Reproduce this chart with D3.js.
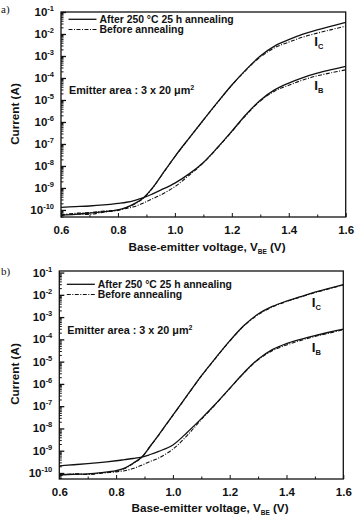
<!DOCTYPE html>
<html>
<head>
<meta charset="utf-8">
<script src="https://cdn.jsdelivr.net/npm/d3@7.9.0/dist/d3.min.js"></script>
<style>
  body { margin: 0; background: #fff; }
  svg text { font-family: "Liberation Sans", Arial, sans-serif; font-weight: bold; fill: #111; }
</style>
</head>
<body>
<svg id="chart" width="355" height="517"></svg>
<script>
// Base-emitter voltage grid (V)
const vbe = [0.60, 0.65, 0.70, 0.75, 0.80, 0.83, 0.86, 0.89, 0.92, 0.95, 1.00, 1.05,
             1.10, 1.15, 1.20, 1.25, 1.30, 1.35, 1.40, 1.45, 1.50, 1.55, 1.60];

// Panel a) - currents as log10(I / A)
const icAfterA  = [-10.23, -10.20, -10.14, -10.08, -10.00, -9.88, -9.70, -9.44, -9.02, -8.48, -7.57, -6.73,
                   -5.91, -5.10, -4.32, -3.62, -3.00, -2.55, -2.26, -2.01, -1.81, -1.64, -1.47];
const icBeforeA = [-10.25, -10.18, -10.20, -10.10, -10.02, -9.90, -9.72, -9.46, -9.03, -8.49, -7.58, -6.74,
                   -5.92, -5.11, -4.33, -3.64, -3.05, -2.63, -2.37, -2.14, -1.96, -1.80, -1.64];
const ibAfterA  = [-9.88, -9.85, -9.82, -9.77, -9.70, -9.65, -9.56, -9.44, -9.28, -9.10, -8.78, -8.36,
                   -7.84, -7.16, -6.42, -5.66, -5.01, -4.54, -4.23, -3.98, -3.78, -3.62, -3.47];
const ibBeforeA = [-10.22, -10.15, -10.12, -10.05, -10.00, -9.93, -9.84, -9.68, -9.50, -9.32, -8.94, -8.42,
                   -7.86, -7.17, -6.44, -5.69, -5.05, -4.60, -4.33, -4.09, -3.90, -3.76, -3.63];

// Panel b) - currents as log10(I / A)
const icAfterB  = [-10.08, -10.06, -10.04, -9.98, -9.89, -9.78, -9.56, -9.29, -8.80, -8.29, -7.40, -6.52,
                   -5.64, -4.84, -4.07, -3.38, -2.86, -2.52, -2.28, -2.08, -1.88, -1.71, -1.54];
const icBeforeB = [-10.10, -10.04, -10.07, -10.00, -9.92, -9.80, -9.58, -9.30, -8.81, -8.30, -7.41, -6.53,
                   -5.65, -4.85, -4.08, -3.40, -2.89, -2.55, -2.30, -2.10, -1.90, -1.73, -1.56];
const ibAfterB  = [-9.68, -9.63, -9.58, -9.52, -9.45, -9.40, -9.35, -9.29, -9.17, -9.03, -8.74, -8.18,
                   -7.56, -6.90, -6.20, -5.50, -4.89, -4.46, -4.19, -4.00, -3.83, -3.68, -3.54];
const ibBeforeB = [-10.10, -10.05, -10.06, -10.00, -9.95, -9.90, -9.80, -9.65, -9.48, -9.33, -8.93, -8.32,
                   -7.60, -6.92, -6.21, -5.51, -4.92, -4.51, -4.25, -4.05, -3.87, -3.72, -3.57];

// Tick labels
const xMajor = [0.6, 0.8, 1.0, 1.2, 1.4, 1.6];
const xMinor = [0.7, 0.9, 1.1, 1.3, 1.5];
const yExponents = [-1, -2, -3, -4, -5, -6, -7, -8, -9, -10];
const legendLabels = ["After 250 \u00B0C 25 h annealing", "Before annealing"];

const svg = d3.select("#chart");

// Panel layout (pixels)
const panels = [
  { tag: "a)", left: 61, right: 345.7, top: 12, bottom: 217, yLo: -10.32, yHi: -1,
    ic: [icAfterA, icBeforeA], ib: [ibAfterA, ibBeforeA],
    legY: 19.3, areaY: 94, icLabY: 46, ibLabY: 90, xTitleX: 207, xTitleY: 251, yTitleY: 114, tagY: 13 },
  { tag: "b)", left: 59.3, right: 343.3, top: 271, bottom: 479, yLo: -10.27, yHi: -0.93,
    ic: [icAfterB, icBeforeB], ib: [ibAfterB, ibBeforeB],
    legY: 284.3, areaY: 334, icLabY: 307, ibLabY: 352, xTitleX: 210, xTitleY: 512, yTitleY: 374, tagY: 275 }
];

panels.forEach((p, i) => drawPanel(p, i));

function drawPanel(p, idx) {
  const x = d3.scaleLinear().domain([0.6, 1.6]).range([p.left, p.right]);
  const y = d3.scaleLog().domain([10 ** p.yLo, 10 ** p.yHi]).range([p.bottom, p.top]);
  const g = svg.append("g");

  // clip for curves
  const clipId = "clip" + idx;
  svg.append("clipPath").attr("id", clipId)
    .append("rect").attr("x", p.left).attr("y", p.top)
    .attr("width", p.right - p.left).attr("height", p.bottom - p.top);

  // x axis ticks (inward)
  g.append("g").attr("transform", `translate(0,${p.bottom})`)
    .call(d3.axisBottom(x).tickValues(xMajor).tickSize(-4).tickPadding(8.5).tickFormat(d3.format(".1f")))
    .call(a => a.select(".domain").remove())
    .call(a => a.selectAll("text").attr("font-size", 11.5).attr("font-family", null))
    .call(a => a.selectAll("line").attr("stroke", "#111"));
  g.append("g").attr("transform", `translate(0,${p.bottom})`)
    .call(d3.axisBottom(x).tickValues(xMinor).tickSize(-2.5).tickFormat(""))
    .call(a => a.select(".domain").remove())
    .call(a => a.selectAll("line").attr("stroke", "#111"));

  // y axis ticks (inward), major + minor
  const majors = yExponents.map(e => 10 ** e);
  const minors = [];
  for (let k = -11; k <= -1; k++) for (let m = 2; m <= 9; m++) {
    const v = m * 10 ** k;
    if (v > 10 ** p.yLo && v < 10 ** p.yHi) minors.push(v);
  }
  g.append("g").attr("transform", `translate(${p.left},0)`)
    .call(d3.axisLeft(y).tickValues(majors).tickSize(-5).tickFormat(""))
    .call(a => a.select(".domain").remove())
    .call(a => a.selectAll("line").attr("stroke", "#111").attr("stroke-width", 1.3));
  g.append("g").attr("transform", `translate(${p.left},0)`)
    .call(d3.axisLeft(y).tickValues(minors).tickSize(-2.5).tickFormat(""))
    .call(a => a.select(".domain").remove())
    .call(a => a.selectAll("line").attr("stroke", "#111"));

  // y tick labels 10^n
  g.selectAll("text.ylab").data(yExponents).join("text")
    .attr("class", "ylab")
    .attr("x", p.left - 7).attr("y", e => y(10 ** e) + 4)
    .attr("text-anchor", "end").attr("font-size", 11.5)
    .each(function (e) {
      const t = d3.select(this);
      t.append("tspan").text("10");
      t.append("tspan").attr("dy", -5).attr("font-size", 7.5).text(e);
    });

  // frame
  g.append("rect")
    .attr("x", p.left).attr("y", p.top)
    .attr("width", p.right - p.left).attr("height", p.bottom - p.top)
    .attr("fill", "none").attr("stroke", "#111").attr("stroke-width", 1.3);

  // curves
  const line = d3.line()
    .x(d => x(d[0])).y(d => y(10 ** d[1]))
    .curve(d3.curveCatmullRom.alpha(0.5));
  const styles = [{ w: 1.3, dash: null }, { w: 1.1, dash: "4,1.5,1,1.5" }];
  const curves = g.append("g").attr("clip-path", `url(#${clipId})`);
  [p.ic, p.ib].forEach(pair => {
    pair.forEach((vals, j) => {
      curves.append("path")
        .attr("d", line(vbe.map((v, k) => [v, vals[k]])))
        .attr("fill", "none").attr("stroke", "#111")
        .attr("stroke-width", styles[j].w)
        .attr("stroke-dasharray", styles[j].dash);
    });
  });

  // legend
  legendLabels.forEach((lab, j) => {
    const ly = p.legY + j * 10.2;
    g.append("line")
      .attr("x1", p.left + 7.5).attr("x2", p.left + 35.5)
      .attr("y1", ly).attr("y2", ly)
      .attr("stroke", "#111").attr("stroke-width", styles[j].w)
      .attr("stroke-dasharray", styles[j].dash);
    g.append("text")
      .attr("x", p.left + 38.5).attr("y", ly + 3.6)
      .attr("font-size", 10.4).text(lab);
  });

  // emitter area note
  const area = g.append("text").attr("x", p.left + 8).attr("y", p.areaY).attr("font-size", 10.8);
  area.append("tspan").text("Emitter area : 3 x 20 \u03BCm");
  area.append("tspan").attr("dy", -4.5).attr("font-size", 7).text("2");

  // I_C / I_B labels
  [["C", p.icLabY], ["B", p.ibLabY]].forEach(([s, ly]) => {
    const t = g.append("text").attr("x", p.right - 31.5).attr("y", ly).attr("font-size", 13.5);
    t.append("tspan").text("I");
    t.append("tspan").attr("dy", 2.5).attr("font-size", 7.5).text(s);
  });

  // axis titles
  const xt = g.append("text").attr("x", p.xTitleX).attr("y", p.xTitleY)
    .attr("text-anchor", "middle").attr("font-size", 11.7);
  xt.append("tspan").text("Base-emitter voltage, V");
  xt.append("tspan").attr("dy", 3).attr("font-size", 6.5).text("BE");
  xt.append("tspan").attr("dy", -3).text(" (V)");

  g.append("text")
    .attr("transform", `translate(19,${p.yTitleY}) rotate(-90)`)
    .attr("text-anchor", "middle").attr("font-size", 11.7)
    .text("Current (A)");

  // panel tag
  g.append("text").attr("x", 1).attr("y", p.tagY)
    .style("font-family", "'Liberation Serif', 'Times New Roman', serif")
    .style("font-weight", "normal")
    .attr("font-size", 11).text(p.tag);
}
</script>
</body>
</html>
